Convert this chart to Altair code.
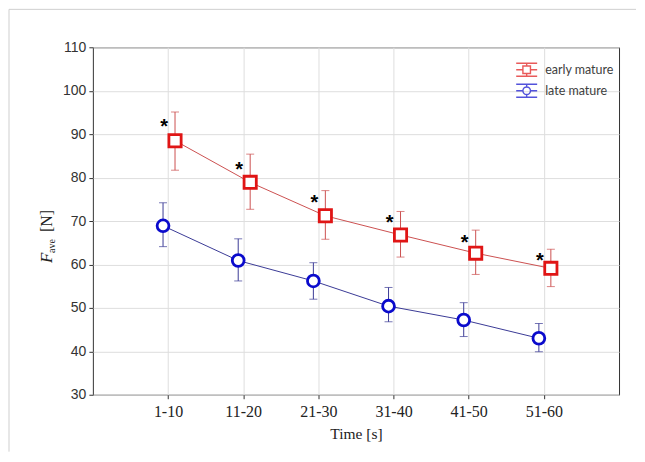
import altair as alt
import pandas as pd

# ---- data ----
categories = ["1-10", "11-20", "21-30", "31-40", "41-50", "51-60"]
series_names = ["early mature", "late mature"]

early_mean = [88.5, 78.9, 71.2, 66.8, 62.6, 59.1]
early_upper = [95.1, 85.4, 77.0, 72.2, 67.9, 63.5]
early_lower = [81.7, 72.7, 65.8, 61.7, 57.7, 54.9]

late_mean = [68.9, 60.9, 56.2, 50.4, 47.2, 43.0]
late_upper = [74.2, 65.9, 60.4, 54.7, 51.2, 46.4]
late_lower = [64.1, 56.2, 52.0, 46.8, 43.4, 39.9]

star_y = [92.8, 82.9, 75.2, 70.6, 66.1, 62.0]

y_ticks = [30, 40, 50, 60, 70, 80, 90, 100, 110]

# ---- styling ----
RED_MARK, RED_LINE = "#e01515", "#cc5050"
BLUE_MARK, BLUE_LINE = "#0a0acc", "#3a3a96"
GRID = "#dedede"
W, H = 527, 348

early = pd.DataFrame({"cat": categories, "mean": early_mean, "upper": early_upper,
                      "lower": early_lower, "star": star_y, "series": series_names[0]})
late = pd.DataFrame({"cat": categories, "mean": late_mean, "upper": late_upper,
                     "lower": late_lower, "series": series_names[1]})

X = alt.X("cat:N", sort=categories,
          scale=alt.Scale(type="point", padding=1),
          axis=alt.Axis(title="Time [s]", labelAngle=0, grid=True, gridColor=GRID,
                        domain=False, tickSize=4, tickColor="#333",
                        labelFont="Liberation Serif", labelFontSize=16, labelColor="#222",
                        labelPadding=5, titleFont="Liberation Serif", titleFontSize=15.5,
                        titleFontWeight="normal", titleColor="#222", titlePadding=7))


def Y(field):
    return alt.Y(f"{field}:Q", scale=alt.Scale(domain=[30, 110], nice=False, zero=False),
                 axis=alt.Axis(title=None, values=y_ticks, grid=True, gridColor=GRID,
                               domain=False, tickSize=4, tickColor="#333",
                               labelFont="Liberation Sans", labelFontSize=14,
                               labelColor="#333", labelPadding=3))


def series_layers(df, line_c, mark_c, shape, off, size):
    base = alt.Chart(df)
    line = base.mark_line(color=line_c, strokeWidth=1, xOffset=off).encode(x=X, y=Y("mean"))
    err = base.mark_rule(color=line_c, strokeWidth=1, xOffset=off).encode(
        x=X, y=Y("lower"), y2="upper")
    cap_u = base.mark_tick(color=line_c, thickness=1, size=8, xOffset=off).encode(x=X, y=Y("upper"))
    cap_l = base.mark_tick(color=line_c, thickness=1, size=8, xOffset=off).encode(x=X, y=Y("lower"))
    pts = base.mark_point(shape=shape, size=size, fill="white", fillOpacity=1, opacity=1,
                          stroke=mark_c, strokeWidth=2.8, xOffset=off).encode(x=X, y=Y("mean"))
    return [line, err, cap_u, cap_l, pts]


stars = alt.Chart(early).mark_text(text="*", font="Liberation Sans", fontSize=20,
                                   fontWeight="bold", color="black", xOffset=-4,
                                   baseline="alphabetic", dy=11).encode(x=X, y=Y("star"))

# legend (built by Vega-Lite from an empty layer with explicit scale domains)
path_sq = ("M-1,-0.62H1M-1,0.62H1M-1,0H-0.36M0.36,0H1M0,-0.62V-0.36M0,0.36V0.62"
           "M-0.36,-0.36H0.36V0.36H-0.36Z")
path_ci = ("M-1,-0.62H1M-1,0.62H1M-1,0H-0.36M0.36,0H1M0,-0.62V-0.36M0,0.36V0.62"
           "M-0.36,0A0.36,0.36 0 1,1 0.36,0A0.36,0.36 0 1,1 -0.36,0Z")
leg = alt.Legend(orient="none", legendX=423, legendY=11, title=None, padding=0,
                 symbolSize=441, symbolStrokeWidth=1.4, labelFont="Lato",
                 labelFontSize=12.5, labelColor="#404040", labelOffset=7, rowPadding=0)
legend_layer = alt.Chart(pd.concat([early, late])).transform_filter("false").mark_point(
    filled=False).encode(
    color=alt.Color("series:N", scale=alt.Scale(domain=series_names, range=[RED_MARK, BLUE_MARK]),
                    legend=leg),
    shape=alt.Shape("series:N", scale=alt.Scale(domain=series_names, range=[path_sq, path_ci]),
                    legend=leg))

# y-axis title: italic F with subscript "ave" and [N]
one = pd.DataFrame({"k": [0]})
ttl_F = alt.Chart(one).mark_text(text="F", font="Liberation Serif", fontStyle="italic",
                                 fontSize=17, angle=270, align="left", baseline="alphabetic",
                                 color="#222").encode(x=alt.value(-41), y=alt.value(216))
ttl_ave = alt.Chart(one).mark_text(text="ave", font="Liberation Serif", fontSize=10,
                                   angle=270, align="left", baseline="alphabetic",
                                   color="#222").encode(x=alt.value(-37.5), y=alt.value(206))
ttl_N = alt.Chart(one).mark_text(text="[N]", font="Liberation Serif", fontSize=16,
                                 angle=270, align="left", baseline="alphabetic",
                                 color="#222").encode(x=alt.value(-41), y=alt.value(185))

# light figure frame (top and left edges)
frame_top = alt.Chart(one).mark_rule(color="#cfcfcf", strokeWidth=1).encode(
    x=alt.value(-84), x2=alt.value(544), y=alt.value(-38))
frame_left = alt.Chart(one).mark_rule(color="#cfcfcf", strokeWidth=1).encode(
    x=alt.value(-84), y=alt.value(-38), y2=alt.value(405))

layers = ([frame_top, frame_left]
          + series_layers(early, RED_LINE, RED_MARK, "square", 7, 150)
          + series_layers(late, BLUE_LINE, BLUE_MARK, "circle", -5, 140)
          + [stars, legend_layer, ttl_F, ttl_ave, ttl_N])

chart = alt.layer(*layers).properties(width=W, height=H, padding=0,
                                      background="white").configure_view(
    stroke="#333", strokeWidth=1)

chart.save("out.html", embed_options={"renderer": "svg", "actions": False})
